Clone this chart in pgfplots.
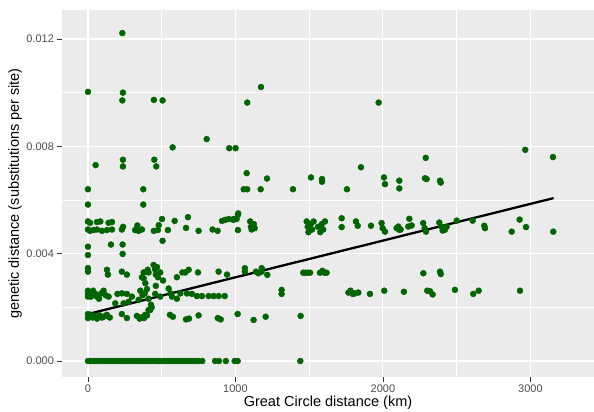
\documentclass[border=0pt]{standalone}
\usepackage{fontspec}
\setmainfont{Liberation Sans}
\usepackage{pgfplots}
\pgfplotsset{compat=1.18}

\definecolor{panelbg}{HTML}{EBEBEB}
\definecolor{ptgreen}{RGB}{0,100,0}
\definecolor{ticktext}{HTML}{4D4D4D}
\definecolor{tickmark}{HTML}{333333}

\begin{document}
\begin{tikzpicture}
\begin{axis}[
    name=ax,
    scale only axis,
    width=532bp, height=367bp,
    xmin=-176, xmax=3431,
    ymin=-0.000596, ymax=0.01308,
    axis background/.style={fill=panelbg},
    axis line style={draw=none},
    xtick={0,1000,2000,3000},
    minor xtick={500,1500,2500},
    ytick={0,0.004,0.008,0.012},
    minor ytick={0.002,0.006,0.010},
    grid=both,
    major grid style={white, line width=1.1bp},
    minor grid style={white, line width=0.55bp},
    tick align=outside,
    major tick length=4.5bp,
    minor tick length=0pt,
    tick style={tickmark, line width=0.8bp},
    xtick pos=bottom, ytick pos=left,
    scaled y ticks=false,
    xticklabel style={/pgf/number format/1000 sep={}},
    yticklabel style={/pgf/number format/.cd, fixed, fixed zerofill, precision=3},
    /pgf/number format/assume math mode=true,
    ticklabel style={font=\fontsize{11bp}{13bp}\selectfont, text=ticktext},
    xlabel={Great Circle distance (km)},
    ylabel={genetic distance (substitutions per site)},
    label style={font=\fontsize{14.5bp}{17bp}\selectfont},
    xlabel style={at={(axis description cs:0.5,-0.0708)}, anchor=center},
    ylabel style={at={(axis description cs:-0.0883,0.5)}, anchor=center},
]
% pairwise comparisons
\addplot[only marks, mark=*, mark size=3bp, color=ptgreen] coordinates {
% zero distance row
(0,0) (12,0) (28,0) (45,0) (62,0) (80,0) (100,0) (118,0) (135,0) (152,0)
(170,0) (188,0) (205,0) (222,0) (240,0) (258,0) (275,0) (292,0) (310,0) (328,0)
(345,0) (362,0) (380,0) (398,0) (415,0) (432,0) (450,0) (468,0) (485,0) (502,0)
(520,0) (538,0) (555,0) (572,0) (590,0) (608,0) (625,0) (642,0) (660,0) (678,0)
(695,0) (712,0) (730,0) (750,0) (775,0) (862,0) (888,0) (935,0) (995,0) (1015,0)
(1440,0)
% ~0.0017
(0,0.00175) (0,0.00160) (5,0.00168) (18,0.00172) (32,0.00162) (48,0.00168)
(62,0.00158) (78,0.00170) (95,0.00162) (110,0.00166) (128,0.00172) (148,0.00162)
(230,0.00175) (264,0.00160) (332,0.00168) (350,0.00158) (366,0.00163) (380,0.00160)
(400,0.00170) (411,0.00190) (432,0.00200) (556,0.00172) (576,0.00165) (665,0.00155)
(685,0.00158) (750,0.00170) (880,0.00160) (900,0.00155) (1015,0.00175) (1123,0.00153)
(1205,0.00165) (1442,0.00168)
(185,0.00215) (242,0.00215) (276,0.00221) (344,0.00228) (388,0.00172) (422,0.00190)
(427,0.00210) (460,0.00280) (378,0.00308)
% ~0.0025
(0,0.00262) (0,0.00250) (0,0.00240) (10,0.00255) (20,0.00240) (35,0.00262)
(50,0.00250) (60,0.00240) (75,0.00232) (90,0.00252) (106,0.00262) (120,0.00245)
(140,0.00240) (200,0.00250) (230,0.00252) (264,0.00250) (298,0.00240) (355,0.00262)
(370,0.00245) (385,0.00252) (400,0.00268) (411,0.00232) (456,0.00250) (490,0.00240)
(547,0.00270) (560,0.00252) (570,0.00240) (603,0.00232) (626,0.00252) (671,0.00252)
(705,0.00250) (739,0.00242) (773,0.00242) (818,0.00242) (852,0.00242) (886,0.00242)
(927,0.00242) (1313,0.00265) (1313,0.00250) (1766,0.00255) (1780,0.00262) (1795,0.00250)
(1810,0.00252) (1833,0.00255) (1912,0.00250) (2009,0.00262) (2142,0.00258) (2300,0.00262)
(2319,0.00260) (2337,0.00248) (2488,0.00265) (2612,0.00250) (2649,0.00262) (2929,0.00262)
% ~0.0033
(0,0.00346) (0,0.00333) (129,0.00340) (135,0.00322) (230,0.00333) (264,0.00322)
(366,0.00312) (378,0.00330) (389,0.00290) (405,0.00340) (411,0.00330) (445,0.00358)
(455,0.00342) (460,0.00322) (468,0.00350) (475,0.00312) (490,0.00330) (509,0.00300)
(603,0.00312) (640,0.00330) (660,0.00330) (683,0.00340) (746,0.00330) (886,0.00333)
(943,0.00322) (1064,0.00346) (1064,0.00333) (1139,0.00333) (1155,0.00327) (1178,0.00346)
(1178,0.00333) (1216,0.00321) (1460,0.00329) (1475,0.00329) (1490,0.00329) (1506,0.00329)
(1573,0.00329) (1590,0.00336) (1605,0.00329) (1618,0.00329) (2274,0.00327) (2387,0.00333)
(2392,0.00324)
% ~0.0042
(0,0.00426) (0,0.00395) (156,0.00434) (235,0.00434) (235,0.00399) (506,0.00448)
% ~0.005
(0,0.00520) (14,0.00515) (61,0.00518) (84,0.00520) (140,0.00515) (163,0.00518)
(502,0.00529) (588,0.00522) (678,0.00536) (909,0.00522) (931,0.00526) (954,0.00529)
(988,0.00529) (1017,0.00545)
(0,0.00490) (14,0.00485) (38,0.00488) (61,0.00490) (95,0.00485) (129,0.00488)
(163,0.00490) (230,0.00490) (238,0.00500) (320,0.00488) (335,0.00505) (343,0.00485)
(366,0.00490) (447,0.00485) (474,0.00488) (480,0.00506) (542,0.00488) (665,0.00496)
(750,0.00485) (845,0.00490) (879,0.00485) (1017,0.00488)
(985,0.00526) (1008,0.00529) (1019,0.00550) (1100,0.00520) (1105,0.00500) (1110,0.00490)
(1125,0.00510) (1130,0.00495)
(1483,0.00520) (1490,0.00500) (1495,0.00480) (1510,0.00510) (1520,0.00490) (1530,0.00520)
(1560,0.00500) (1575,0.00480) (1585,0.00510) (1595,0.00490) (1607,0.00520) (1720,0.00532)
(1720,0.00499) (1817,0.00520) (1829,0.00504) (1919,0.00504) (1991,0.00514) (1998,0.00495)
(2014,0.00482) (2093,0.00495) (2104,0.00501) (2111,0.00489) (2120,0.00490) (2172,0.00501)
(2179,0.00530) (2195,0.00505) (2273,0.00514) (2283,0.00495) (2292,0.00482) (2382,0.00516)
(2395,0.00501) (2405,0.00486) (2420,0.00489) (2432,0.00500) (2500,0.00523) (2608,0.00523)
(2687,0.00504) (2692,0.00495) (2873,0.00482) (2927,0.00527) (2970,0.00499) (3155,0.00482)
% upper rows
(0,0.00583) (375,0.00583) (0,0.00640) (375,0.00640) (1056,0.00640) (1080,0.00640)
(1171,0.00640) (1390,0.00640) (1756,0.00640) (2111,0.00643) (2014,0.00659) (1076,0.00700)
(1214,0.00680) (1512,0.00684) (1587,0.00678) (1587,0.00668) (2007,0.00684) (2111,0.00672)
(2285,0.00681) (2296,0.00678) (2387,0.00672) (2392,0.00665) (52,0.00730) (237,0.00750)
(237,0.00725) (450,0.00750) (463,0.00725) (1851,0.00722) (2290,0.00757) (3153,0.00760)
(574,0.00796) (805,0.00827) (958,0.00793) (1001,0.00793) (2965,0.00787)
(0,0.01003) (237,0.01000) (233,0.00971) (447,0.00973) (506,0.00971) (1080,0.00963)
(1173,0.01021) (1971,0.00963) (233,0.01222)
};
% linear fit
\addplot[black, line width=2.3bp] coordinates {(0,0.00175) (3157,0.00607)};
\end{axis}
\pgfresetboundingbox
\path[use as bounding box] ([shift={(-62bp,-35bp)}]ax.south west) rectangle ([shift={(0bp,10bp)}]ax.north east);
\end{tikzpicture}
\end{document}
